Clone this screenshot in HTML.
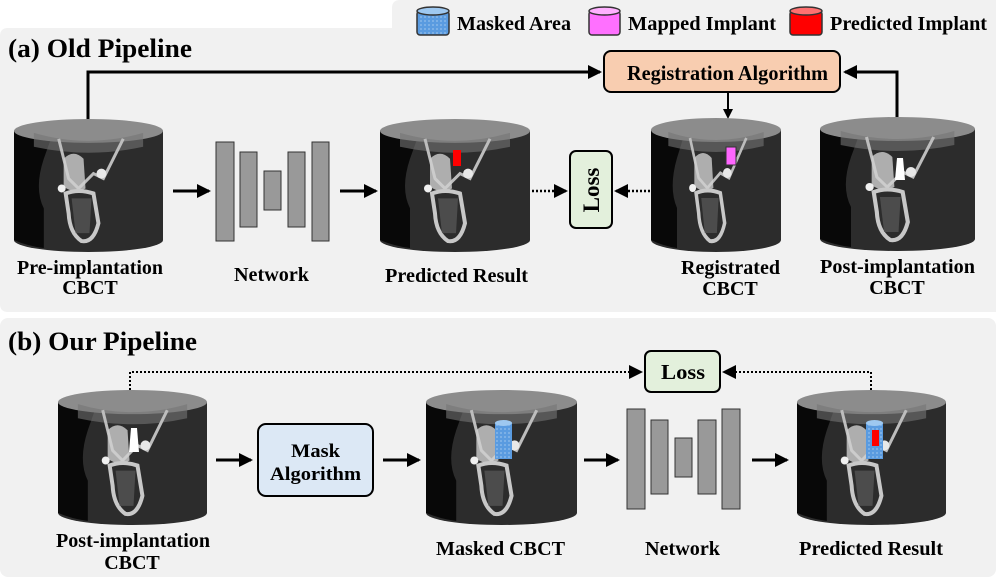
<!DOCTYPE html>
<html><head><meta charset="utf-8"><style>
body{margin:0;background:#fff;}
svg text{font-family:"Liberation Serif",serif;font-weight:bold;fill:#000;}
</style></head><body>
<svg width="996" height="577" viewBox="0 0 996 577" xmlns="http://www.w3.org/2000/svg">
<defs>
<pattern id="dots" width="4" height="4" patternUnits="userSpaceOnUse"><rect width="4" height="4" fill="#5a9be0"/><circle cx="1" cy="1" r="0.6" fill="#cfe3f8"/></pattern>
<marker id="ah" markerWidth="10" markerHeight="10" refX="8" refY="5" orient="auto" markerUnits="userSpaceOnUse"><path d="M0,0 L10,5 L0,10 Z" fill="#000"/></marker>
<marker id="ahb" markerWidth="14" markerHeight="14" refX="12" refY="7" orient="auto" markerUnits="userSpaceOnUse"><path d="M0,0 L14,7 L0,14 Z" fill="#000"/></marker>
<symbol id="cyl" viewBox="0 0 150 135" preserveAspectRatio="none">
<path d="M0,12 L0,122 A75,12 0 0 0 150,122 L150,12 Z" fill="#2c2c2c"/>
<path d="M0,12 L0,122 Q14,128 30,130 L30,90 Q20,70 30,40 L40,12 Z" fill="#080808"/>
<ellipse cx="75" cy="12" rx="75" ry="12" fill="#8c8c8c"/>
<path d="M20,14 Q75,30 130,14 L130,28 Q75,40 20,28 Z" fill="#747474" opacity="0.6"/>
<path d="M45,20 L55,60 L65,70 L80,55 L90,60 L100,40 L110,20" stroke="#bdbdbd" stroke-width="3" fill="none"/>
<path d="M50,40 Q60,30 70,40 L72,70 Q60,76 50,68 Z" fill="#cfcfcf" opacity="0.8"/>
<path d="M52,75 Q65,70 80,75 L85,105 Q80,125 68,123 Q56,115 55,95 Z" fill="none" stroke="#c8c8c8" stroke-width="4"/>
<path d="M58,80 L78,80 L76,115 L62,115 Z" fill="#555" opacity="0.8"/>
<circle cx="88" cy="55" r="5" fill="#e8e8e8"/>
<circle cx="48" cy="70" r="4" fill="#f0f0f0"/>
</symbol>
</defs>

<path d="M400,0 L996,0 L996,312 L8,312 Q0,312 0,304 L0,36 Q0,28 8,28 L392,28 L392,8 Q392,0 400,0 Z" fill="#f1f1f1"/>
<rect x="0" y="318" width="996" height="259" rx="8" fill="#f1f1f1"/>

<!-- legend -->
<g>
<rect x="417" y="11" width="32" height="24" rx="3" fill="url(#dots)" stroke="#333" stroke-width="1.5"/>
<ellipse cx="433" cy="11" rx="16" ry="4" fill="#9ec8f0" stroke="#333" stroke-width="1.5"/>
<text x="457" y="30" font-size="20" textLength="114" lengthAdjust="spacingAndGlyphs">Masked Area</text>
<rect x="589" y="11" width="31" height="24" rx="3" fill="#ff70ff" stroke="#333" stroke-width="1.5"/>
<ellipse cx="604.5" cy="11" rx="15.5" ry="4" fill="#ffb0ff" stroke="#333" stroke-width="1.5"/>
<text x="628" y="30" font-size="20" textLength="148" lengthAdjust="spacingAndGlyphs">Mapped Implant</text>
<rect x="790" y="11" width="32" height="24" rx="3" fill="#f00" stroke="#333" stroke-width="1.5"/>
<ellipse cx="806" cy="11" rx="16" ry="4" fill="#ff7070" stroke="#333" stroke-width="1.5"/>
<text x="830" y="30" font-size="20" textLength="157" lengthAdjust="spacingAndGlyphs">Predicted Implant</text>
</g>

<!-- (a) -->
<text x="8" y="57" font-size="26" textLength="184" lengthAdjust="spacingAndGlyphs">(a) Old Pipeline</text>
<polyline points="88,122 88,72 600,72" fill="none" stroke="#000" stroke-width="3" marker-end="url(#ahb)"/>
<polyline points="897,118 897,72 845,72" fill="none" stroke="#000" stroke-width="3" marker-end="url(#ahb)"/>
<line x1="728" y1="92" x2="728" y2="117" stroke="#000" stroke-width="2" marker-end="url(#ah)"/>
<rect x="604" y="51" width="236" height="41" rx="7" fill="#f8cdb0" stroke="#000" stroke-width="2"/>
<text x="627" y="80" font-size="21" textLength="201" lengthAdjust="spacingAndGlyphs">Registration Algorithm</text>

<use href="#cyl" x="14" y="119" width="149" height="134"/>
<use href="#cyl" x="380" y="119" width="150" height="134"/>
<rect x="453" y="150" width="8" height="16" fill="#f00"/>
<use href="#cyl" x="651" y="118" width="130" height="135"/>
<rect x="726" y="147" width="10" height="18" fill="#ff66ff" stroke="#333"/>
<use href="#cyl" x="820" y="117" width="155" height="135"/>
<path d="M897,158 L903,158 L905,180 L895,180 Z" fill="#fff"/>

<line x1="173" y1="191" x2="209" y2="191" stroke="#000" stroke-width="3" marker-end="url(#ahb)"/>
<line x1="340" y1="191" x2="376" y2="191" stroke="#000" stroke-width="3" marker-end="url(#ahb)"/>
<g fill="#999" stroke="#333" stroke-width="1">
<rect x="216" y="142" width="18" height="99"/><rect x="240" y="152" width="17" height="75"/><rect x="264" y="171" width="17" height="39"/><rect x="288" y="152" width="17" height="75"/><rect x="312" y="142" width="17" height="99"/>
</g>
<line x1="532" y1="191" x2="566" y2="191" stroke="#000" stroke-width="2.5" stroke-dasharray="2,2" marker-end="url(#ahb)"/>
<line x1="650" y1="191" x2="616" y2="191" stroke="#000" stroke-width="2.5" stroke-dasharray="2,2" marker-end="url(#ahb)"/>
<rect x="570" y="151" width="42" height="77" rx="6" fill="#e3f0dc" stroke="#000" stroke-width="2"/>
<text transform="translate(599,190) rotate(-90)" font-size="23" text-anchor="middle">Loss</text>

<g font-size="20">
<text x="17" y="274" textLength="146" lengthAdjust="spacingAndGlyphs">Pre-implantation</text><text x="90" y="294" text-anchor="middle">CBCT</text>
<text x="234" y="281" textLength="75" lengthAdjust="spacingAndGlyphs">Network</text>
<text x="385" y="282" textLength="143" lengthAdjust="spacingAndGlyphs">Predicted Result</text>
<text x="681" y="274" textLength="99" lengthAdjust="spacingAndGlyphs">Registrated</text><text x="730" y="295" text-anchor="middle">CBCT</text>
<text x="820" y="273" textLength="155" lengthAdjust="spacingAndGlyphs">Post-implantation</text><text x="897" y="294" text-anchor="middle">CBCT</text>
</g>

<!-- (b) -->
<text x="8" y="350" font-size="26" textLength="189" lengthAdjust="spacingAndGlyphs">(b) Our Pipeline</text>
<polyline points="130,390 130,372 641,372" fill="none" stroke="#000" stroke-width="2" stroke-dasharray="2,2" marker-end="url(#ahb)"/>
<polyline points="871,390 871,372 724,372" fill="none" stroke="#000" stroke-width="2" stroke-dasharray="2,2" marker-end="url(#ahb)"/>
<rect x="645" y="351" width="75" height="41" rx="6" fill="#e3f0dc" stroke="#000" stroke-width="2"/>
<text x="661" y="379" font-size="21" textLength="44" lengthAdjust="spacingAndGlyphs">Loss</text>

<use href="#cyl" x="58" y="390" width="149" height="136"/>
<path d="M131,428 L137,428 L139,452 L129,452 Z" fill="#fff"/>
<use href="#cyl" x="426" y="390" width="151" height="136"/>
<rect x="495" y="423" width="17" height="36" fill="url(#dots)"/>
<ellipse cx="503.5" cy="423" rx="8.5" ry="3" fill="#9ec8f0"/>
<use href="#cyl" x="797" y="390" width="149" height="136"/>
<rect x="866" y="423" width="17" height="36" fill="url(#dots)"/>
<ellipse cx="874.5" cy="423" rx="8.5" ry="3" fill="#9ec8f0"/>
<rect x="872" y="430" width="7" height="16" fill="#f00"/>

<line x1="216" y1="460" x2="251" y2="460" stroke="#000" stroke-width="3" marker-end="url(#ahb)"/>
<rect x="258" y="424" width="115" height="72" rx="8" fill="#dce8f5" stroke="#000" stroke-width="2"/>
<text x="291" y="457" font-size="19" textLength="49" lengthAdjust="spacingAndGlyphs">Mask</text>
<text x="270" y="480" font-size="19" textLength="91" lengthAdjust="spacingAndGlyphs">Algorithm</text>
<line x1="383" y1="460" x2="419" y2="460" stroke="#000" stroke-width="3" marker-end="url(#ahb)"/>
<line x1="584" y1="460" x2="618" y2="460" stroke="#000" stroke-width="3" marker-end="url(#ahb)"/>
<g fill="#999" stroke="#333" stroke-width="1">
<rect x="627" y="409" width="18" height="100"/><rect x="651" y="420" width="17" height="74"/><rect x="675" y="438" width="17" height="39"/><rect x="698" y="420" width="18" height="74"/><rect x="722" y="409" width="18" height="100"/>
</g>
<line x1="752" y1="460" x2="787" y2="460" stroke="#000" stroke-width="3" marker-end="url(#ahb)"/>

<g font-size="20">
<text x="56" y="547" textLength="154" lengthAdjust="spacingAndGlyphs">Post-implantation</text><text x="132" y="569" text-anchor="middle">CBCT</text>
<text x="436" y="555" textLength="129" lengthAdjust="spacingAndGlyphs">Masked CBCT</text>
<text x="645" y="555" textLength="75" lengthAdjust="spacingAndGlyphs">Network</text>
<text x="799" y="555" textLength="144" lengthAdjust="spacingAndGlyphs">Predicted Result</text>
</g>
</svg>
</body></html>
